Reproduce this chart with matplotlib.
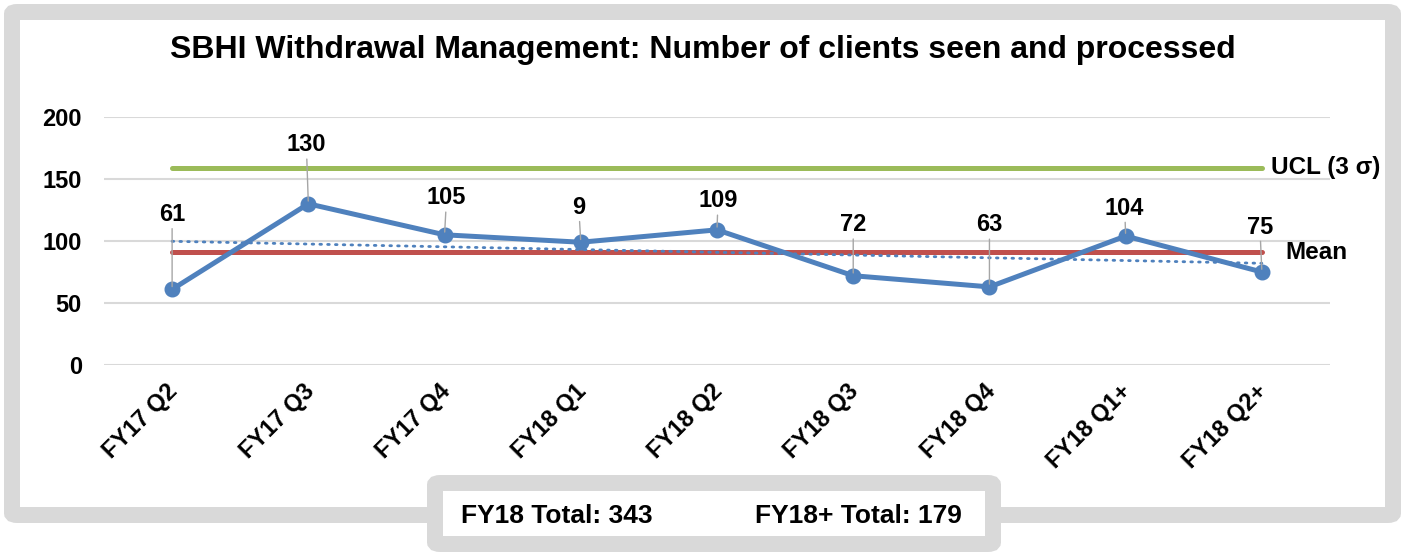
import numpy as np
import matplotlib
matplotlib.use("Agg")
import matplotlib.pyplot as plt
from matplotlib.patches import FancyBboxPatch
from matplotlib.transforms import ScaledTranslation

plt.rcParams['font.family'] = ['Liberation Sans', 'DejaVu Sans']
plt.rcParams['font.weight'] = 'bold'

# data
quarters = ['FY17 Q2', 'FY17 Q3', 'FY17 Q4', 'FY18 Q1', 'FY18 Q2',
            'FY18 Q3', 'FY18 Q4', 'FY18 Q1+', 'FY18 Q2+']
clients = [61, 130, 105, 99, 109, 72, 63, 104, 75]
point_labels = ['61', '130', '105', '9', '109', '72', '63', '104', '75']
ucl_value = 159
totals = ['FY18 Total: 343', 'FY18+ Total: 179']

# label offsets (pixels) above each point
label_offsets = [(0, 75), (-2, 59), (2, 37), (-2, 35), (1, 29),
                 (0, 51), (0, 62), (-1, 28), (-2, 45)]

BLUE = '#4f81bd'
RED = '#c0504d'
GREEN = '#9bbb59'
FRAME = '#d9d9d9'

W, H = 1403, 552
fig = plt.figure(figsize=(W / 100, H / 100), dpi=100)

# outer frame
frame = FancyBboxPatch((12 / W, 1 - 515 / H), (1393 - 12) / W, (515 - 12) / H,
                       boxstyle='round,pad=0,rounding_size=0.004',
                       transform=fig.transFigure, facecolor='white',
                       edgecolor=FRAME, linewidth=16 * 0.72, zorder=-1)
fig.patches.append(frame)

ax = fig.add_axes([104 / W, 1 - 365 / H, (1330 - 104) / W, (365 - 117) / H])
ax.set_facecolor('none')
ax.set_zorder(1)

x = np.arange(len(quarters))
mean_value = np.mean(clients)
slope, intercept = np.polyfit(x, clients, 1)

ax.plot([x[0], x[-1]], [ucl_value, ucl_value], color=GREEN, lw=3.6,
        solid_capstyle='round', zorder=2)
ax.plot([x[0], x[-1]], [mean_value, mean_value], color=RED, lw=3.6,
        solid_capstyle='round', zorder=2)
ax.plot(x, slope * x + intercept, color=BLUE, lw=2, ls=(0, (0.6, 2.2)),
        dash_capstyle='round', zorder=3)
ax.plot(x, clients, color=BLUE, lw=3.6, marker='o', markersize=10.5, zorder=4)

for xi, yi, lab, off in zip(x, clients, point_labels, label_offsets):
    ax.annotate(lab, xy=(xi, yi), xytext=off, textcoords='offset pixels',
                ha='center', va='center', fontsize=17, fontweight='bold',
                arrowprops=dict(arrowstyle='-', color='#a6a6a6', lw=1,
                                shrinkA=0, shrinkB=2), zorder=5)

ax.text(x[-1] + 0.065, ucl_value, 'UCL (3 σ)', ha='left', va='center',
        fontsize=17.5, fontweight='bold')
ax.text(x[-1] + 0.17, mean_value, 'Mean', ha='left', va='center',
        fontsize=17.5, fontweight='bold')

ax.set_xlim(-0.5, len(quarters) - 0.5)
ax.set_ylim(0, 200)
ax.set_yticks([0, 50, 100, 150, 200])
ax.yaxis.grid(True, color=FRAME, lw=1.5)
ax.set_axisbelow(True)
for s in ax.spines.values():
    s.set_visible(False)
ax.tick_params(length=0)
ax.tick_params(axis='y', pad=16, labelsize=17)
ax.set_xticks(x)
ax.set_xticklabels(quarters, rotation=45, ha='right', rotation_mode='anchor',
                   fontsize=17, fontweight='bold')
for lbl in ax.get_xticklabels():
    lbl.set_transform(lbl.get_transform() + ScaledTranslation(-0.06, -0.1, fig.dpi_scale_trans))

fig.text(703 / W, 1 - 50 / H,
         'SBHI Withdrawal Management: Number of clients seen and processed',
         ha='center', va='center', fontsize=23, fontweight='bold')

# totals box
box = FancyBboxPatch((435 / W, 1 - 544 / H), (993 - 435) / W, (544 - 483) / H,
                     boxstyle='round,pad=0,rounding_size=0.004',
                     transform=fig.transFigure, facecolor='white',
                     edgecolor=FRAME, linewidth=16 * 0.72, zorder=3)
fig.patches.append(box)
fig.text(557 / W, 1 - 516 / H, totals[0], ha='center', va='center',
         fontsize=19, fontweight='bold', zorder=4)
fig.text(858 / W, 1 - 516 / H, totals[1], ha='center', va='center',
         fontsize=19, fontweight='bold', zorder=4)

fig.savefig('out.png', dpi=100)
